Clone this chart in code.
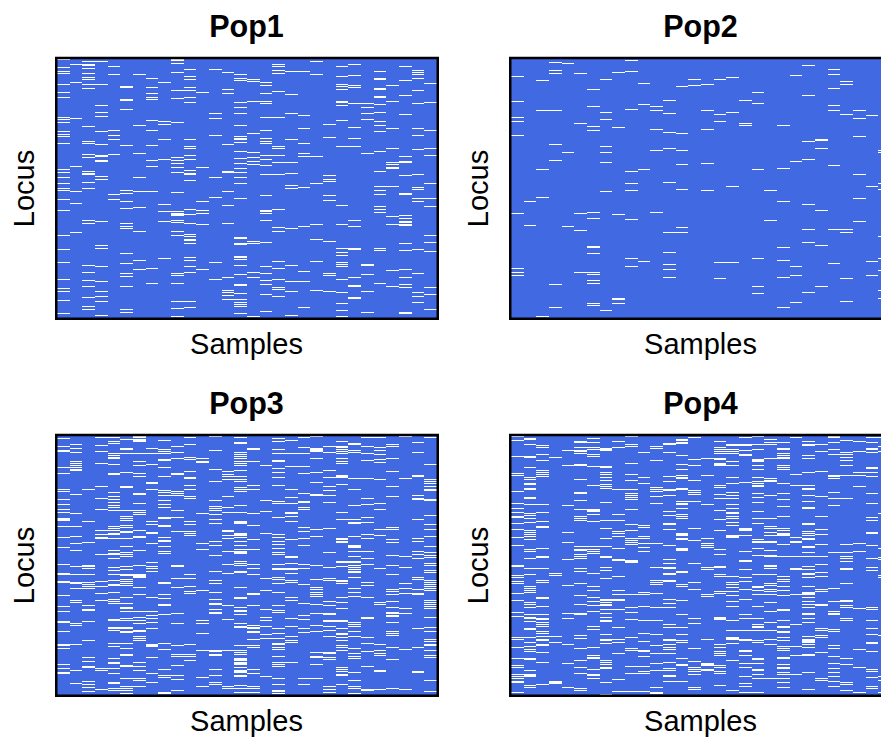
<!DOCTYPE html>
<html>
<head>
<meta charset="utf-8">
<script src="https://cdn.jsdelivr.net/npm/d3@7"></script>
<style>
  html, body { margin: 0; padding: 0; background: #fff; overflow: hidden; }
  text { font-family: "Liberation Sans", Arial, sans-serif; fill: #000; }
</style>
</head>
<body>
<div id="chart"></div>
<script>
// each inner list = one sample (column), numbers = locus rows that are set (white cells)
const pop1 = [
  [0,8,12,14,25,33,38,58,60,63,72,75,77,84,110,113,118,124,129,131,140,151,176,190,203,220,229,232,241,254],
  [5,23,59,107,132,144,173],
  [2,5,6,9,14,18,20,25,29,67,82,84,95,98,112,114,115,123,129,161,164,206,213,221,227,238,247,250],
  [2,25,46,53,57,72,85,96,97,101,102,117,120,162,186,189,207,222,232,237,242,256],
  [7,15,71,76,80,95,135,140],
  [27,28,40,41,50,86,131,134,142,149,164,167,169,194,204,214,217,227,250,253],
  [15,66,94,118,132,148,172,201,210],
  [19,28,34,38,40,61,71,86,101,107,132,209,224],
  [23,62,65,80,100,145,152,162,199],
  [0,1,4,13,31,39,63,98,101,104,108,113,133,152,154,155,156,161,163,172,176,214,216,224,242,249,257],
  [10,17,20,28,31,38,43,80,87,89,96,100,111,114,115,121,150,155,164,175,177,180,181,184,198,201,207,213,242,248],
  [33,108,142,151,154,165,210],
  [10,54,59,76,118,138,203,220],
  [13,30,34,85,112,113,132,146,164,218,231,233,236,240],
  [15,19,21,43,48,54,66,77,79,80,83,92,99,104,109,113,118,124,139,178,179,184,185,197,198,200,206,215,225,226,234,240,243,245,247,254],
  [20,22,42,74,93,98,102,105,182,184,213,218,257],
  [23,26,34,42,44,58,71,79,82,84,96,100,106,115,136,151,152,154,161,183,207,214,221,225,235,252],
  [5,7,11,14,32,58,87,89,96,103,115,150,168,172,202,209,220,228,230,237],
  [12,35,54,80,103,114,126,129,169,206,222,232,256],
  [12,56,69,84,94,97,128,167,212,222,248],
  [2,15,97,124,165,180,202,231],
  [65,78,116,120,122,136,141,182,214,216,232],
  [7,17,25,27,30,42,43,46,61,87,146,165,189,193,196,203,205,207,220,233,244,251,257],
  [5,16,26,28,44,68,79,87,161,167,189,190,218,226,227,238,239],
  [44,48,54,60,94,205,206,215,232,253],
  [12,19,20,29,30,37,38,45,53,62,66,72,92,112,127,131,135,147,150,153,189,191,224],
  [26,42,69,89,103,105,108,109,127,157,165,211,227],
  [7,21,36,55,97,102,103,116,134,135,156,159,162,163,165,166,184,191,210,218,225,228,253,254],
  [11,13,15,19,31,44,69,76,90,115,128,130,139,142,190,214,233,237,243],
  [24,43,71,89,96,124,139,147,176,183,192,228,235,250]
];

const pop2 = [
  [17,42,58,62,76,154,209,213,216],
  [142,166],
  [21,51,110,138,257],
  [3,11,14,51,85,101,225,248],
  [4,93,167],
  [14,64,154,171,213],
  [30,47,67,71,153,159,187,188,194,213,215,221,224,244,246],
  [20,53,60,87,93,103,132,251],
  [13,68,155,239,240,244],
  [1,12,50,112,124,131,160,199,207],
  [24,45,110,202],
  [47,51,70,91,153],
  [41,54,73,89,123,173,193,205,210,218],
  [27,74,91,105,130,168,173],
  [20,26],
  [25,51,70,104,131],
  [20,55,62,203,219],
  [18,53,127,203],
  [41,64,66],
  [33,44,110,199,227,234],
  [131,161],
  [66,109,142,188,201,218,248],
  [16,102,207,216,243],
  [6,36,82,100,145,170,183,233],
  [80,81,89,151,186,227],
  [10,15,29,46,51,106,170,204],
  [22,25,55,170,173,219,242],
  [51,59,77,115,139,162],
  [56,127,202,216],
  [91,93,124,130,177,199,211,231,239]
];

const pop3 = [
  [2,10,14,15,31,37,53,55,63,68,73,76,82,83,84,90,101,111,128,137,138,145,146,159,170,175,185,186,195,208,209,212,228,232,236,237],
  [8,12,16,25,27,29,31,33,34,58,77,90,100,107,114,130,138,146,147,152,164,166,187,189,208,234,247],
  [53,85,106,129,130,132,138,146,148,150,152,169,173,174,185,204,221,225,230,231,245,248,251,255],
  [1,9,15,27,50,62,73,94,98,101,102,118,145,150,157,164,232,234,253],
  [1,5,7,17,19,21,22,28,37,38,56,60,63,66,69,71,74,90,92,94,97,98,102,114,117,118,122,131,134,138,144,148,149,156,163,165,167,183,184,191,192,194,207,210,222,226,227,232,237,246,247,252,254],
  [3,12,13,17,36,50,51,74,80,82,84,89,91,95,96,102,110,116,118,120,130,133,138,139,143,145,147,149,161,167,171,172,175,182,184,191,192,195,196,207,212,218,219,229,230,242,250,252,254,257],
  [0,1,3,4,5,17,25,29,37,40,57,58,67,74,76,78,94,100,101,114,129,138,139,140,141,151,158,175,181,184,187,194,195,200,202,204,226,230,234,242,244,250],
  [12,17,28,46,47,53,85,88,96,97,107,126,130,132,135,161,175,179,182,186,192,208,209,210,221,237,246],
  [4,13,15,17,23,24,31,40,54,56,59,64,68,71,81,82,89,90,101,104,105,110,115,117,146,147,158,162,168,169,178,207,213,233,239,241,256,257],
  [10,16,22,37,38,55,57,59,74,81,95,129,130,142,151,177,187,209,218,220,229,239,243,254],
  [1,8,21,23,35,41,42,49,53,60,62,85,88,95,97,99,138,142,150,155,157,208,218,220,224],
  [22,25,26,77,107,113,154,184,187,197,214,241,250],
  [0,14,33,45,64,70,72,74,78,83,87,105,109,119,135,144,147,156,163,167,168,173,176,177,214,215,218,219,233,239,246,248],
  [35,38,40,43,60,71,76,94,95,99,102,115,128,137,169,183,214,250,252],
  [1,6,7,16,18,20,22,25,27,29,34,40,43,45,51,53,55,69,76,85,86,87,97,98,99,101,105,109,113,115,116,117,125,127,129,135,136,151,161,162,171,174,175,178,187,190,191,209,214,216,218,222,223,224,226,227,228,231,234,235,236,239,240,249,252,256],
  [12,13,25,49,53,77,89,103,113,128,132,138,157,158,169,189,191,192,195,196,203,209,211,233,237,250,252,256],
  [29,64,75,97,142,154,173,181,184,190,198,202,240],
  [2,5,13,17,24,25,32,36,41,49,65,67,81,98,101,105,108,112,116,118,128,132,133,141,143,147,156,169,174,176,192,197,202,207,208,211,213,220,226,228,230,242,248,254,255,257],
  [4,17,30,53,61,67,76,77,80,85,103,120,121,127,132,133,137,144,146,161,164,182,190,200,204,206,226],
  [1,11,17,30,37,57,65,66,71,73,91,95,102,109,128,132,148,167,179,183,192,196,242,248],
  [0,12,13,14,15,22,36,46,58,59,93,100,129,143,151,153,156,158,160,168,177,189,195,216,220,221,228,242],
  [10,16,34,41,50,54,59,66,92,116,131,142,144,165,169,177,178,184,185,190,194,200,216,217,221,223,250,253,256],
  [5,10,11,13,15,17,22,25,27,39,40,41,48,76,83,102,103,105,106,125,126,130,144,145,147,161,166,172,184,185,192,197,198,201,204,209,211,214,231,233,235,238,239,248],
  [7,8,14,16,42,53,69,83,86,87,100,109,110,111,115,120,125,126,129,131,133,135,136,141,152,156,160,186,188,190,195,200,212,217,220,222,236,244,250,252,257],
  [1,10,17,24,42,62,68,81,86,98,102,115,122,128,146,149,161,181,182,201,207,215,230,253,254],
  [1,11,14,18,23,26,43,67,73,93,99,132,166,168,208,214,217,219,234,235,253],
  [8,10,22,35,50,60,91,93,103,106,119,129,138,153,155,158,165,171,176,177,179,180,186,195,197,199,211,223,252],
  [0,42,120,131,147,152,157,172,177,213,253],
  [6,16,39,40,59,62,63,83,102,105,115,118,122,141,143,153,157,158,192,211,235,236],
  [1,28,43,45,47,50,53,54,63,64,79,88,93,100,110,116,119,121,127,129,134,136,144,146,148,150,152,154,164,166,168,170,172,181,191,195,203,205,208,209,214,219,221,244,255]
];

const pop4 = [
  [0,4,20,37,39,55,67,72,76,80,81,87,93,101,109,129,130,139,141,145,147,157,164,176,180,201,203,211,222,229,231,238,240,242,245,246,256],
  [2,3,8,20,21,31,41,43,47,48,52,53,61,62,68,77,79,82,86,94,96,98,100,103,113,115,122,132,138,150,152,154,156,166,168,171,178,181,182,185,192,193,201,206,210,213,215,222,223,234,238,239,240,249,251],
  [9,11,18,24,34,36,38,40,68,76,85,90,91,112,120,121,132,144,146,161,162,170,178,182,183,186,188,190,195,197,200,203,204,208,209,216,226,248],
  [21,137,139,200,206,245,246,247],
  [14,29,69,96,106,123,149,177,182,208,227,251],
  [5,6,11,14,15,17,28,29,43,56,57,64,73,80,82,84,110,113,114,118,120,122,132,135,147,159,168,177,178,199,202,212,224,231,237,252,254],
  [2,6,11,13,18,20,30,49,73,74,75,78,85,110,113,115,117,137,150,154,161,165,169,175,190,193,211,219,221,222,233,238,239,242],
  [12,13,14,30,31,36,38,41,44,48,50,52,66,84,92,102,110,120,121,131,134,142,163,164,166,168,169,173,177,181,184,185,198,203,204,207,224,226,228,231,232,246,258],
  [5,11,53,78,84,95,97,100,112,123,124,140,154,158,163,164,173,191,203,206,217,243,255],
  [0,8,10,27,38,44,53,57,59,61,63,73,88,94,102,104,106,108,124,125,126,158,171,176,183,201,212,214,230,237,255],
  [16,41,47,89,91,100,102,107,111,115,156,158,170,184,197,205,214,215,220,230,235,237,255],
  [10,12,24,51,53,55,60,67,107,131,144,146,148,157,171,184,198,209,217,227,234,251,256,257],
  [7,8,16,40,45,53,54,59,75,79,87,88,93,109,123,127,131,132,137,138,144,145,163,167,171,188,191,203,204,208,211,213,217,226,232,234,239,240,245],
  [3,4,6,7,19,28,33,39,41,42,52,53,65,67,68,72,78,80,82,97,98,99,102,103,112,113,114,135,136,148,150,164,178,191,198,204,206,222,228,229,245],
  [1,23,29,44,54,56,58,65,92,104,127,146,153,182,187,212,225,231,233,235,238,251,253],
  [22,39,68,102,107,109,111,131,133,158,160,203,227,228,229,233,234],
  [5,11,13,15,17,22,23,27,28,29,49,51,58,62,74,83,94,113,118,130,131,138,140,155,157,181,182,183,208,211,215,217,219,229,231,235,237,249],
  [8,9,13,15,17,25,29,41,47,56,59,62,68,72,76,77,80,82,86,89,99,100,101,140,146,148,151,155,159,165,170,184,194,201,202,203,207,224,254],
  [1,8,9,14,18,19,46,92,93,94,99,115,124,125,133,141,145,153,163,178,182,194,203,204,214,215,219,227,231,240,247,250,256],
  [0,8,13,23,24,25,29,33,41,45,47,49,50,57,61,66,75,82,87,103,105,106,112,119,138,150,151,154,158,170,182,188,190,191,194,204,206,222,223,227,233,234,238,242,256],
  [3,6,8,22,42,44,45,59,82,90,92,96,99,105,106,114,119,120,129,130,132,138,147,149,153,155,158,166,175,186,194,203,208,242],
  [6,12,13,17,19,21,22,29,31,33,47,57,63,70,80,92,94,97,98,99,108,120,140,143,145,150,154,159,173,174,184,190,191,195,196,201,204,210,212,214,221,222,228,231,232,236,238,242,246,251],
  [1,38,49,101,105,106,120,132,133,158,188,210,219,238],
  [5,8,9,19,22,36,49,52,53,59,65,71,72,87,88,95,97,99,102,103,110,111,116,120,130,133,137,138,141,150,156,157,158,161,165,168,171,177,178,182,186,200,203,204,205,206,208,211,218,219,236,253],
  [8,15,35,60,80,93,98,108,120,128,136,140,153,155,168,169,192,194,199,201,216,242,244],
  [0,1,6,13,18,39,40,42,56,62,69,116,152,165,175,177,178,193,195,209,212,220,227,232,236,240,245,250],
  [4,16,18,21,24,29,39,62,108,116,120,122,125,132,133,147,164,165,169,171,182,184,222,228,246,248,254],
  [5,15,36,39,50,107,115,172,213,231,256],
  [1,6,12,13,16,31,32,36,40,57,67,81,84,96,97,109,122,131,134,171,173,184,192,198,206,207,215,233,235,241,250,252],
  [1,10,15,77,112,121,123,139,141,199,240,244,256]
];

const panelNames = ["Pop1", "Pop2", "Pop3", "Pop4"];
const panelData = [pop1, pop2, pop3, pop4];
const xLabel = "Samples";
const yLabel = "Locus";

const nSamples = 30;
const nLoci = 259;

const width = 881;
const height = 742;

// panel positions
const panelWidth = 380;
const panelHeight = 259;
const panelX = [57, 511, 57, 511];
const panelY = [59, 59, 436, 436];

const svg = d3
  .select("#chart")
  .append("svg")
  .attr("width", width)
  .attr("height", height);

panelNames.forEach((name, p) => {
  const x0 = panelX[p];
  const y0 = panelY[p];

  const xScale = d3
    .scaleBand()
    .domain(d3.range(nSamples))
    .range([x0, x0 + panelWidth]);
  const yScale = d3
    .scaleBand()
    .domain(d3.range(nLoci))
    .range([y0, y0 + panelHeight]);

  const g = svg.append("g").attr("class", "panel");

  // background = value 0
  g.append("rect")
    .attr("x", x0)
    .attr("y", y0)
    .attr("width", panelWidth)
    .attr("height", panelHeight)
    .attr("fill", "#4169e1");

  // flatten columns into cells
  const cells = [];
  panelData[p].forEach((rows, col) => {
    rows.forEach((row) => cells.push({ col, row }));
  });

  g.selectAll("rect.cell")
    .data(cells)
    .enter()
    .append("rect")
    .attr("class", "cell")
    .attr("x", (d) => xScale(d.col))
    .attr("y", (d) => yScale(d.row))
    .attr("width", xScale.bandwidth())
    .attr("height", yScale.bandwidth())
    .attr("fill", "#fff")
    .attr("shape-rendering", "crispEdges");

  // frame, a bit heavier than 2px
  g.append("rect")
    .attr("x", x0 - 0.75)
    .attr("y", y0 - 1)
    .attr("width", panelWidth + 1.5)
    .attr("height", panelHeight + 1.75)
    .attr("fill", "none")
    .attr("stroke", "#000")
    .attr("stroke-width", 2.5);

  const cx = x0 + panelWidth / 2 - 0.5;
  const cy = y0 + panelHeight / 2;

  g.append("text")
    .attr("x", cx)
    .attr("y", y0 - 22.5)
    .attr("text-anchor", "middle")
    .attr("font-size", 30.5)
    .attr("font-weight", "bold")
    .text(name);

  g.append("text")
    .attr("x", cx)
    .attr("y", y0 + panelHeight + 36)
    .attr("text-anchor", "middle")
    .attr("font-size", 29)
    .text(xLabel);

  g.append("text")
    .attr("transform", `translate(${x0 - 23}, ${cy}) rotate(-90)`)
    .attr("text-anchor", "middle")
    .attr("font-size", 29)
    .text(yLabel);
});
</script>
</body>
</html>
